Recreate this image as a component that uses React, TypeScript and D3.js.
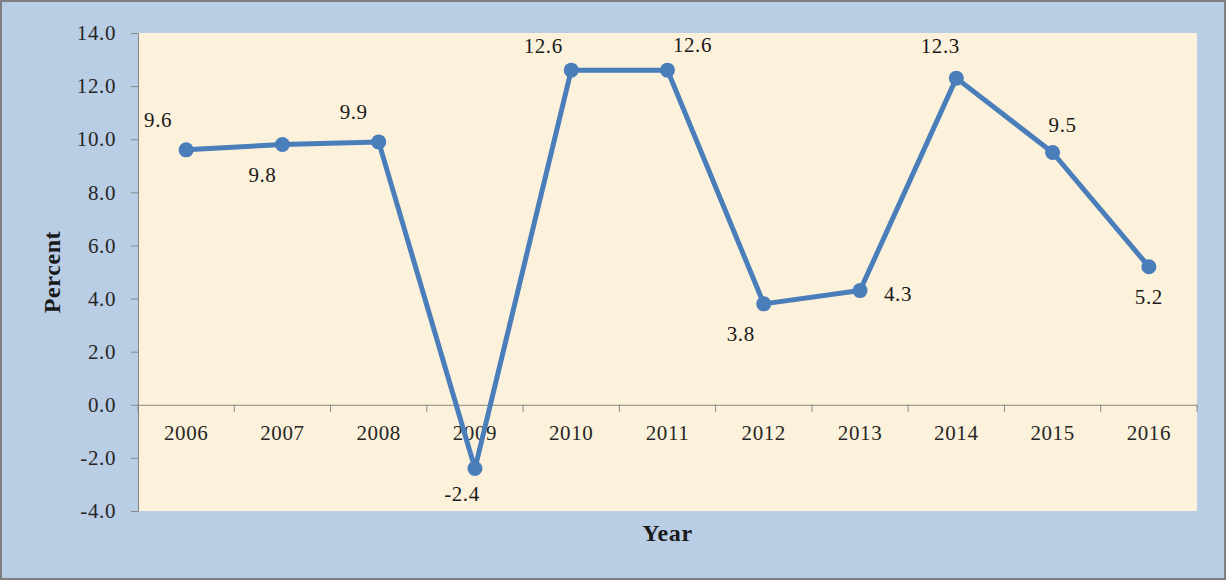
import React, { useEffect, useRef } from 'react';
import * as d3 from 'd3';

const years = ['2006', '2007', '2008', '2009', '2010', '2011', '2012', '2013', '2014', '2015', '2016'];
const growth = [9.6, 9.8, 9.9, -2.4, 12.6, 12.6, 3.8, 4.3, 12.3, 9.5, 5.2];
const yTicks = [-4, -2, 0, 2, 4, 6, 8, 10, 12, 14];
// label offsets from the point, as Excel placed them
const labelDx = [-28, -20, -25, -13, -28, 25, -23, 38, -16, 10, 0];
const labelDy = [-30, 30, -30, 25, -25, -26, 30, 3, -32, -28, 30];

const W = 1226;
const H = 581;
const font = '"Liberation Serif", "DejaVu Serif", serif';
const fmt = (v: number) => v.toFixed(1);

const App = () => {
  const ref = useRef<SVGSVGElement>(null);

  useEffect(() => {
    const svg = d3.select(ref.current);
    svg.selectAll('*').remove();

    const left = 138;
    const right = 1197;
    const top = 33;
    const bottom = 511;

    // outer panel
    svg.append('rect')
      .attr('x', 1).attr('y', 1)
      .attr('width', W - 2).attr('height', H - 3)
      .attr('fill', '#B9CDE5')
      .attr('stroke', '#7F7F7F')
      .attr('stroke-width', 2);

    // plot area
    svg.append('rect')
      .attr('x', left).attr('y', top)
      .attr('width', right - left).attr('height', bottom - top)
      .attr('fill', '#FCF1DB');

    const x = d3.scaleBand().domain(years).range([left, right]);
    const y = d3.scaleLinear().domain([-4, 14]).range([bottom, top]);

    // y axis
    const yAxis = svg.append('g')
      .attr('transform', `translate(${left},0)`)
      .call(d3.axisLeft(y).tickValues(yTicks).tickSize(7).tickPadding(15).tickFormat((d) => fmt(+d)));
    yAxis.select('.domain').attr('stroke', '#868686');
    yAxis.selectAll('.tick line').attr('stroke', '#868686');
    yAxis.selectAll('.tick text')
      .attr('font-family', font).attr('font-size', 21).attr('letter-spacing', 0.6).attr('fill', '#262626');

    // x axis at zero
    const xAxis = svg.append('g')
      .attr('transform', `translate(0,${y(0)})`)
      .call(d3.axisBottom(x).tickSize(0).tickPadding(20));
    xAxis.select('.domain').attr('stroke', '#868686');
    xAxis.selectAll('.tick text')
      .attr('font-family', font).attr('font-size', 21).attr('letter-spacing', 0.6).attr('fill', '#262626');

    // category boundary ticks
    svg.append('g')
      .selectAll('line')
      .data(d3.range(years.length + 1))
      .enter()
      .append('line')
      .attr('x1', (i) => left + i * x.bandwidth())
      .attr('x2', (i) => left + i * x.bandwidth())
      .attr('y1', y(0))
      .attr('y2', y(0) + 7)
      .attr('stroke', '#868686');

    const cx = (i: number) => (x(years[i]) || 0) + x.bandwidth() / 2;

    const line = d3.line<number>()
      .x((d, i) => cx(i))
      .y((d) => y(d));

    svg.append('path')
      .datum(growth)
      .attr('d', line)
      .attr('fill', 'none')
      .attr('stroke', '#4A7EBB')
      .attr('stroke-width', 5)
      .attr('stroke-linejoin', 'round');

    svg.append('g')
      .selectAll('circle')
      .data(growth)
      .enter()
      .append('circle')
      .attr('cx', (d, i) => cx(i))
      .attr('cy', (d) => y(d))
      .attr('r', 7.5)
      .attr('fill', '#4A7EBB');

    svg.append('g')
      .selectAll('text')
      .data(growth)
      .enter()
      .append('text')
      .attr('x', (d, i) => cx(i) + labelDx[i])
      .attr('y', (d, i) => y(d) + labelDy[i])
      .attr('dy', '0.35em')
      .attr('text-anchor', 'middle')
      .attr('font-family', font)
      .attr('font-size', 21)
      .attr('letter-spacing', 0.6)
      .attr('fill', '#1A1A1A')
      .text((d) => fmt(d));

    // axis titles
    svg.append('text')
      .attr('x', (left + right) / 2)
      .attr('y', 541)
      .attr('text-anchor', 'middle')
      .attr('font-family', font)
      .attr('font-size', 24)
      .attr('font-weight', 'bold')
      .attr('letter-spacing', 0.6)
      .attr('fill', '#1A1A1A')
      .text('Year');

    svg.append('text')
      .attr('transform', `translate(60,${(top + bottom) / 2}) rotate(-90)`)
      .attr('text-anchor', 'middle')
      .attr('font-family', font)
      .attr('font-size', 24)
      .attr('font-weight', 'bold')
      .attr('letter-spacing', 0.6)
      .attr('fill', '#1A1A1A')
      .text('Percent');
  });

  return (
    <svg
      ref={ref}
      width={W}
      height={H}
      style={{ display: 'block', position: 'absolute', left: 0, top: 0 }}
    />
  );
};

export default App;
